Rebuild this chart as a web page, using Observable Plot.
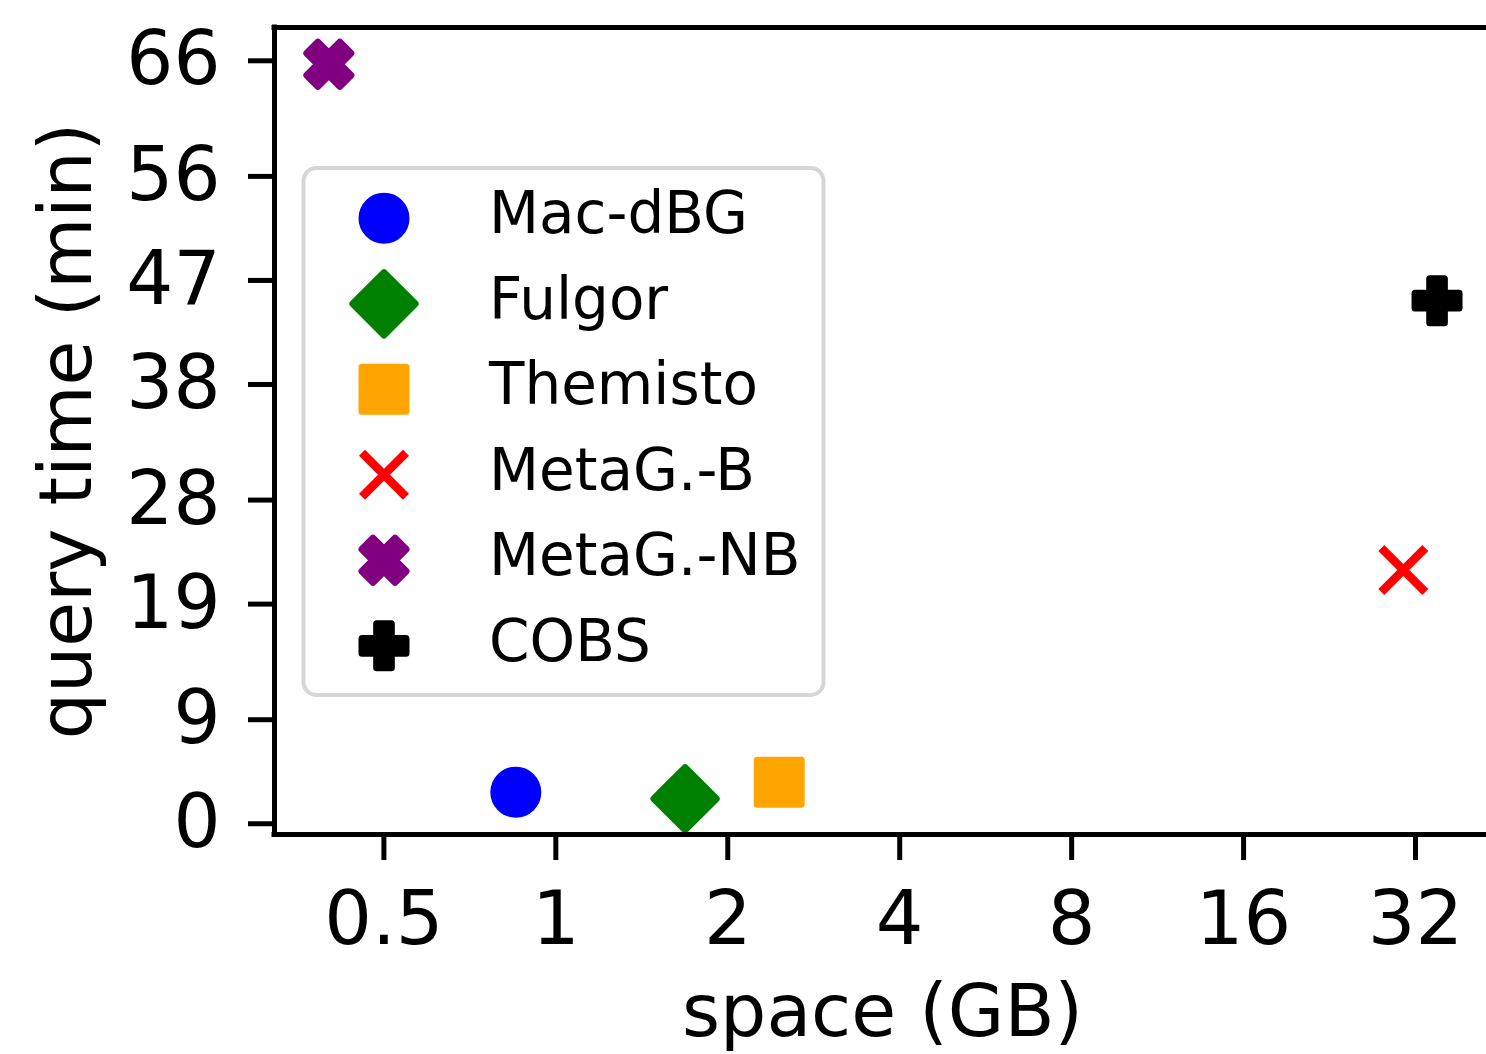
<!DOCTYPE html>
<html><head><meta charset="utf-8">
<script src="https://cdn.jsdelivr.net/npm/d3@7"></script>
<script src="https://cdn.jsdelivr.net/npm/@observablehq/plot@0.6"></script>
<style>html,body{margin:0;padding:0;background:#fff;} svg{display:block}</style>
</head><body><div id="chart"></div>
<script>
const names = ["Mac-dBG", "Fulgor", "Themisto", "MetaG.-B", "MetaG.-NB", "COBS"];
const spaceGB = [0.851, 1.684, 2.461, 30.46, 0.4005, 34.9];
const queryMin = [2.73, 2.16, 3.6, 21.96, 65.7, 45.25];
const colors = ["#0000ff", "#008000", "#ffa500", "#ff0000", "#800080", "#000000"];
const markers = ["o", "D", "s", "x", "X", "P"];
const xTicks = [0.5, 1, 2, 4, 8, 16, 32];
const yTicks = [0, 9, 19, 28, 38, 47, 56, 66];
const xDomain = [0.3217, 42.6];
const yDomain = [-0.93, 68.88];
const xLabel = "space (GB)";
const yLabel = "query time (min)";

const plusPts = [[-1,-3],[1,-3],[1,-1],[3,-1],[3,1],[1,1],[1,3],[-1,3],[-1,1],[-3,1],[-3,-1],[-1,-1]];
const xFilledPts = [[-1,-2],[0,-1],[1,-2],[2,-1],[1,0],[2,1],[1,2],[0,1],[-1,2],[-2,1],[-1,0],[-2,-1]];
function poly(ctx, pts) {
  ctx.moveTo(pts[0][0], pts[0][1]);
  for (let i = 1; i < pts.length; i++) ctx.lineTo(pts[i][0], pts[i][1]);
  ctx.closePath();
}
const half = (size) => Math.sqrt(size / Math.PI);
const symbols = {
  o: {draw(ctx, size) { const s = half(size); ctx.moveTo(s, 0); ctx.arc(0, 0, s, 0, 2 * Math.PI); ctx.closePath(); }},
  D: {draw(ctx, size) { const h = half(size) * Math.SQRT2; poly(ctx, [[0,-h],[h,0],[0,h],[-h,0]]); }},
  s: {draw(ctx, size) { const s = half(size); poly(ctx, [[-s,-s],[s,-s],[s,s],[-s,s]]); }},
  x: {draw(ctx, size) { const s = half(size); ctx.moveTo(-s,-s); ctx.lineTo(s,s); ctx.moveTo(-s,s); ctx.lineTo(s,-s); }},
  X: {draw(ctx, size) { const s = half(size); poly(ctx, xFilledPts.map(([a,b]) => [a*s/2, b*s/2])); }},
  P: {draw(ctx, size) { const s = half(size); poly(ctx, plusPts.map(([a,b]) => [a*s/3, b*s/3])); }}
};
const R = 22, SW = 7, SWX = 8.5;

const data = names.map((n, i) => ({name: n, x: spaceGB[i], y: queryMin[i], color: colors[i], marker: markers[i]}));

const dotMarks = data.map(d => Plot.dot([d], {
  x: "x", y: "y", r: R, symbol: symbols[d.marker],
  fill: d.marker === "x" ? "none" : d.color,
  stroke: d.color, strokeWidth: d.marker === "x" ? SWX : SW,
  strokeLinejoin: d.marker === "x" ? "miter" : "round",
  strokeLinecap: "butt"
}));

const chart = Plot.plot({
  width: 1486, height: 1054,
  marginLeft: 274, marginRight: 0, marginTop: 27, marginBottom: 220,
  style: {fontFamily: "DejaVu Sans", fontSize: "75px", background: "#fff", color: "#000"},
  x: {type: "log", base: 2, domain: xDomain},
  y: {domain: yDomain},
  marks: [
    Plot.axisX({ticks: xTicks, tickSize: 26, tickPadding: 30, tickFormat: d => String(d), strokeWidth: 5, label: null, fontSize: 75}),
    Plot.axisY({ticks: yTicks, tickSize: 26, tickPadding: 28, tickFormat: d => String(d), strokeWidth: 5, label: null, fontSize: 74}),
    ...dotMarks,
    Plot.ruleY([yDomain[0], yDomain[1]], {stroke: "#000", strokeWidth: 5, strokeLinecap: "square"}),
    Plot.ruleX([xDomain[0]], {stroke: "#000", strokeWidth: 5, strokeLinecap: "square"}),
    Plot.text([xLabel], {text: d => d, frameAnchor: "bottom", lineAnchor: "bottom", dy: 201, dx: 2, fontSize: 73}),
    Plot.text([yLabel], {text: d => d, frameAnchor: "left", rotate: -90, lineAnchor: "bottom", textAnchor: "middle", dx: -184, fontSize: 73})
  ]
});
document.getElementById("chart").appendChild(chart);

// legend inside the axes (upper left area)
const svg = d3.select(chart);
const lg = svg.append("g").attr("class", "legend");
lg.append("rect").attr("x", 303.5).attr("y", 168).attr("width", 520).attr("height", 527)
  .attr("rx", 13).attr("fill", "#fff").attr("fill-opacity", 0.8)
  .attr("stroke", "#d6d6d6").attr("stroke-width", 4);
const rowY0 = 218.3, rowStep = 85.5;
data.forEach((d, i) => {
  const y = rowY0 + i * rowStep;
  lg.append("path")
    .attr("transform", `translate(384,${y})`)
    .attr("d", d3.symbol(symbols[d.marker], Math.PI * R * R)())
    .attr("fill", d.marker === "x" ? "none" : d.color)
    .attr("stroke", d.color).attr("stroke-width", d.marker === "x" ? SWX : SW)
    .attr("stroke-linejoin", d.marker === "x" ? "miter" : "round");
  lg.append("text").attr("x", 489).attr("y", y + 15)
    .attr("text-anchor", "start")
    .attr("font-family", "DejaVu Sans").attr("font-size", 58).attr("fill", "#000")
    .text(d.name);
});
</script>
</body></html>
